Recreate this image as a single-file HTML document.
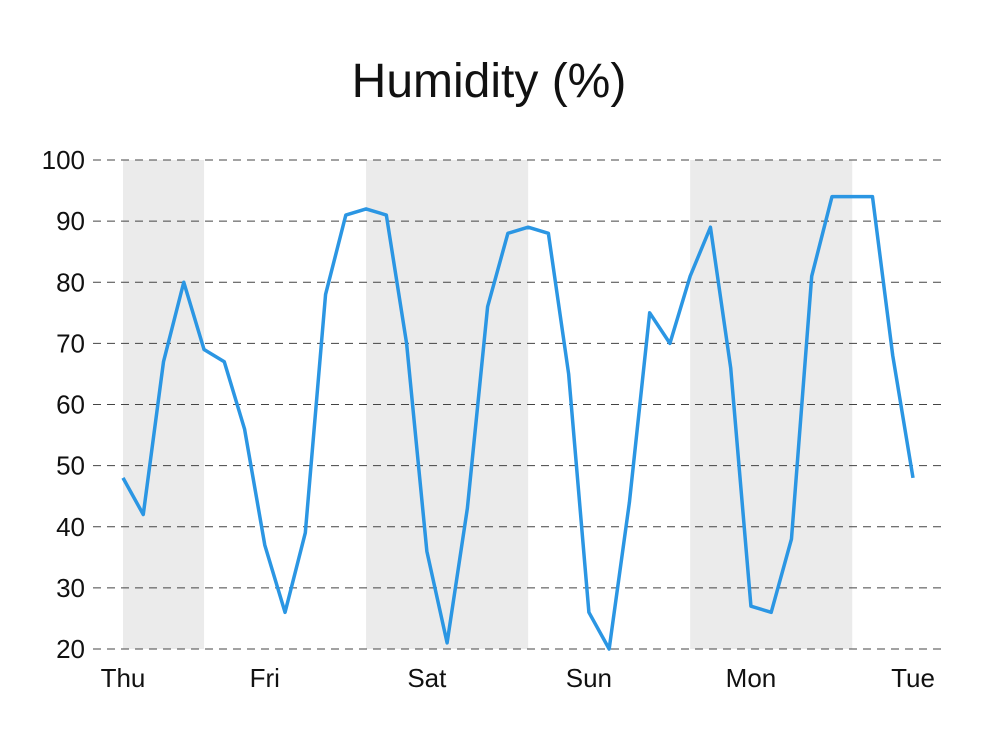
<!DOCTYPE html>
<html><head><meta charset="utf-8"><style>
body{margin:0;background:#fff;width:982px;height:735px;overflow:hidden;font-family:"Liberation Sans",sans-serif}
</style></head><body>
<svg id="chart" width="982" height="735" xmlns="http://www.w3.org/2000/svg">
<text x="489" y="97" text-anchor="middle" font-size="48" fill="#111">Humidity (%)</text>
<g id="bands"></g><g id="grid"></g><g id="ylabels"></g><g id="xlabels"></g><g id="series"></g>
</svg>
<script>
const values=[48,42,67,80,69,67,56,37,26,39,78,91,92,91,70,36,21,43,76,88,89,88,65,26,20,44,75,70,81,89,66,27,26,38,81,94,94,94,68,48];
const yTicks=[20,30,40,50,60,70,80,90,100];
const dayLabels=["Thu","Fri","Sat","Sun","Mon","Tue"];
const dayIndex=[0,7,15,23,31,39];
const bandStart=[0,12,28];
const bandEnd=[4,20,36];
const NS="http://www.w3.org/2000/svg";
const x0=123,dx=(913-123)/39;
function xs(i){return x0+i*dx;}
function ys(v){return 649-(v-20)*(649-160)/80;}
function mk(t,a,p){const e=document.createElementNS(NS,t);for(const k in a)e.setAttribute(k,a[k]);document.getElementById(p).appendChild(e);return e;}
bandStart.forEach((s,i)=>{const r=mk('rect',{x:xs(s),y:160,width:xs(bandEnd[i])-xs(s),height:489,fill:'#ebebeb'},'bands');

});
yTicks.forEach(v=>{const l=mk('line',{x1:93,x2:941,y1:ys(v),y2:ys(v),stroke:'#444','stroke-width':1,'stroke-dasharray':'8,6'},'grid');


const t=mk('text',{x:85,y:ys(v)+9,'text-anchor':'end','font-size':26,fill:'#111'},'ylabels');t.textContent=v;

});
dayLabels.forEach((d,i)=>{const t=mk('text',{x:xs(dayIndex[i]),y:687,'text-anchor':'middle','font-size':26,fill:'#111'},'xlabels');t.textContent=d;

});
const p=mk('polyline',{points:values.map((v,i)=>xs(i)+','+ys(v)).join(' '),fill:'none',stroke:'#2b96e3','stroke-width':3.5,'stroke-linejoin':'round'},'series');


</script>
</body></html>
